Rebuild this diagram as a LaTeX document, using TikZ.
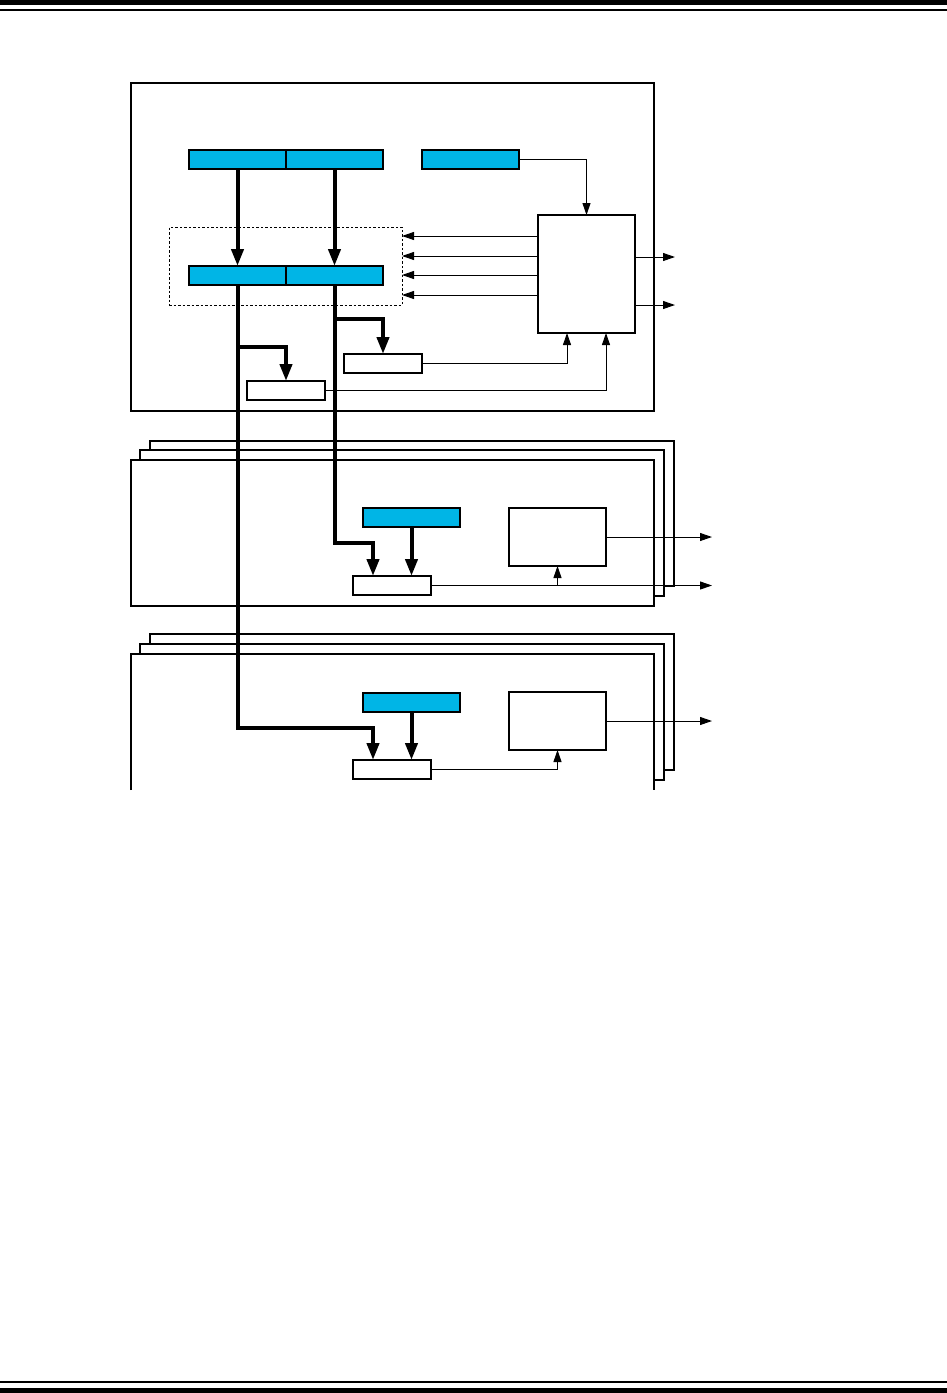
\documentclass[tikz,border=0pt]{standalone}
\usetikzlibrary{arrows.meta}
\definecolor{chipblue}{RGB}{0,181,230}
\tikzset{
  bar/.style={draw, fill=chipblue, line width=1.6pt, minimum width=97pt,
    minimum height=19pt, inner sep=0pt, outer sep=0pt, anchor=north west},
  regbox/.style={draw, fill=white, line width=1.6pt, minimum width=78pt,
    minimum height=19pt, inner sep=0pt, outer sep=0pt, anchor=north west},
  ctrlbox/.style={draw, fill=white, line width=1.2pt, minimum width=97pt,
    inner sep=0pt, outer sep=0pt, anchor=north west},
  frame/.style={draw, fill=white, line width=1.2pt},
  bus/.style={line width=4pt, -{Triangle[length=17pt,width=12pt]}},
  sig/.style={line width=1pt, -{Triangle[length=12pt,width=8pt]}},
}
\begin{document}
\begin{tikzpicture}[x=1pt, y=-1pt]
    \useasboundingbox (0,0) rectangle (947,1393);
    % Reglas de la cabecera y del pie.
    \fill (0,0) rectangle (947,4.7);
    \fill (0,9.3) rectangle (947,11.3);
    \fill (0,1380.7) rectangle (947,1382.7);
    \fill (0,1387.7) rectangle (947,1393);
    % Marcos: bloque superior y dos pilas de bloques.
    \draw[frame] (131,83) rectangle (654,411);
    \draw[frame] (150,441) rectangle (674,586);
    \draw[frame] (140,450) rectangle (664,596);
    \draw[frame] (131,460) rectangle (654,606);
    \draw[frame] (150,634) rectangle (674,770);
    \draw[frame] (140,644) rectangle (664,780);
    \fill[white] (131,654) rectangle (654,790);
    \draw[line width=1.2pt] (131,790) -- (131,654) -- (654,654) -- (654,790);
    % Bloque superior.
    \node[bar] (a1) at (189,150) {};
    \node[bar] (a2) at (286,150) {};
    \node[bar] (a3) at (422,150) {};
    \node[draw, dash pattern=on 2.5pt off 2pt, line width=0.8pt, minimum width=233pt,
        minimum height=78pt, inner sep=0pt, outer sep=0pt, anchor=north west] (grp) at (169,227) {};
    \node[bar] (b1) at (189,266) {};
    \node[bar] (b2) at (286,266) {};
    \node[ctrlbox, minimum height=118pt] (ctl) at (538,215) {};
    \node[regbox] (r1) at (344,354) {};
    \node[regbox] (r2) at (247,381) {};
    % Bloques repetidos.
    \node[bar] (m1) at (363,508) {};
    \node[regbox] (mr) at (353,576) {};
    \node[ctrlbox, minimum height=58pt] (mc) at (509,508) {};
    \node[bar] (n1) at (363,693) {};
    \node[regbox] (nr) at (353,760) {};
    \node[ctrlbox, minimum height=58pt] (nc) at (509,692) {};
    % Buses gruesos.
    \draw[bus] (a1.south) -- (b1.north);
    \draw[bus] (a2.south) -- (b2.north);
    \draw[bus] (b1.south) -- (b1.south |- 0,728) -| ([xshift=-19pt]nr.north);
    \draw[bus] (b2.south) -- (b2.south |- 0,543) -| ([xshift=-19pt]mr.north);
    \draw[bus] (b2.south |- 0,319) -| (r1.north);
    \draw[bus] (b1.south |- 0,347) -| (r2.north);
    \draw[bus] (m1.south) -- (m1.south |- mr.north);
    \draw[bus] (n1.south) -- (n1.south |- nr.north);
    % Senales finas.
    \draw[sig] (a3.east) -| (ctl.north);
    \foreach \y in {236,256,275,295}
        \draw[sig] (ctl.west |- 0,\y) -- (grp.east |- 0,\y);
    \foreach \y in {257,305}
        \draw[sig] (ctl.east |- 0,\y) -- ++(40,0);
    \draw[sig] (r1.east) -| ([xshift=-19.5pt]ctl.south);
    \draw[sig] (r2.east) -| ([xshift=19.5pt]ctl.south);
    \draw[sig] (mc.east) -- ++(106,0);
    \draw[sig] (mr.east) -- ++(281,0);
    \draw[sig] (mc.south |- mr.east) -- (mc.south);
    \draw[sig] (nc.east) -- ++(106,0);
    \draw[sig] (nr.east) -| (nc.south);
\end{tikzpicture}
\end{document}
